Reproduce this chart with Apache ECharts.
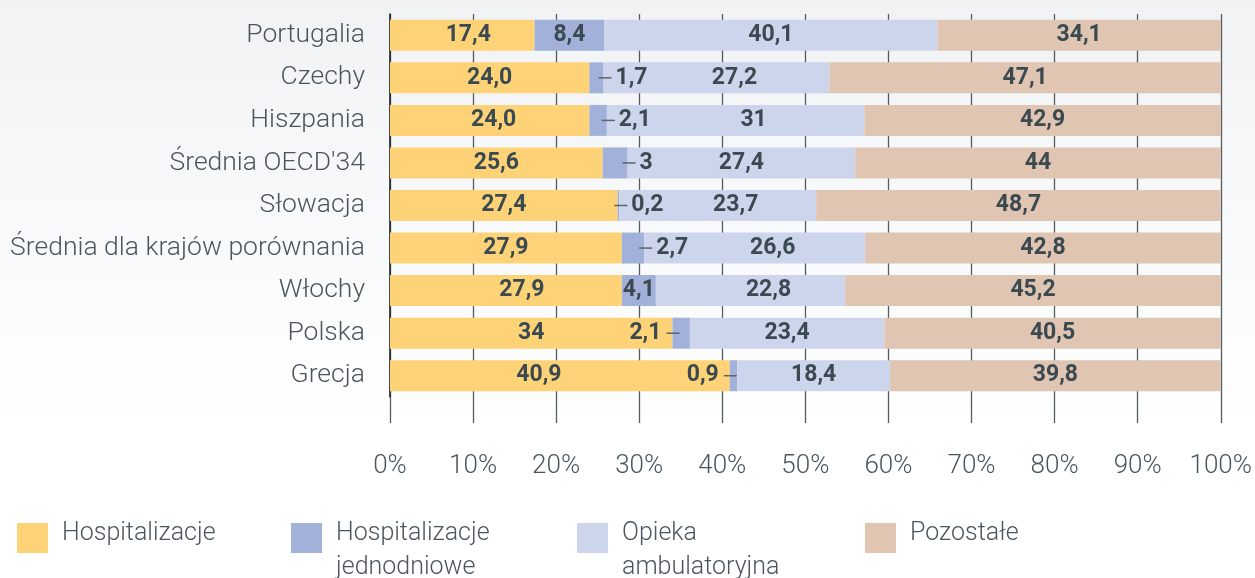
<!DOCTYPE html>
<html>
<head>
<meta charset="utf-8">
<script src="https://cdn.jsdelivr.net/npm/echarts@6/dist/echarts.min.js"></script>
<style>
  html, body { margin: 0; padding: 0; background: #fff; }
  #chart { width: 1255px; height: 578px; }
</style>
</head>
<body>
<div id="chart"></div>
<script>
const countries = ["Portugalia", "Czechy", "Hiszpania", "Średnia OECD'34", "Słowacja",
  "Średnia dla krajów porównania", "Włochy", "Polska", "Grecja"]

const seriesNames = ["Hospitalizacje", "Hospitalizacje jednodniowe", "Opieka ambulatoryjna", "Pozostałe"]

// values as printed on the chart
const hospitalizacje = ["17,4", "24,0", "24,0", "25,6", "27,4", "27,9", "27,9", "34", "40,9"]
const jednodniowe = ["8,4", "1,7", "2,1", "3", "0,2", "2,7", "4,1", "2,1", "0,9"]
const ambulatoryjna = ["40,1", "27,2", "31", "27,4", "23,7", "26,6", "22,8", "23,4", "18,4"]
const pozostale = ["34,1", "47,1", "42,9", "44", "48,7", "42,8", "45,2", "40,5", "39,8"]

const xTicks = [0, 10, 20, 30, 40, 50, 60, 70, 80, 90, 100]

const colors = ["#fed378", "#a1b1da", "#cdd5ec", "#dfc5b2"]
const textColor = "#4a565e"
const valueColor = "#3b4950"
const fontFamily = "Roboto, 'Open Sans', sans-serif"

// label placement tweaks, per bar (style only)
const jednoSide = ["inside", "right", "right", "right", "right", "right", "inside", "left", "left"]
const hospShift = [6, 0, 4, 0, 0, 0, 16, 0, -21]
const ambShift = [0, 18, 18, 0, 18, 18, 18, 0, 0]

// legend item positions (style only)
const legendLeft = [17, 291, 577, 865]
const legendTwoLines = [false, true, true, false]

const toNum = (s) => parseFloat(s.replace(",", "."))

const valueLabel = {
  show: true,
  position: "inside",
  color: valueColor,
  fontFamily: fontFamily,
  fontSize: 23,
  fontWeight: "bold",
}

function makeSeries(idx, texts, shifts) {
  return {
    name: seriesNames[idx],
    type: "bar",
    stack: "total",
    barWidth: 31,
    itemStyle: { color: colors[idx] },
    label: Object.assign({}, valueLabel, {
      formatter: (p) => texts[p.dataIndex],
    }),
    emphasis: { disabled: true },
    data: texts.map((t, i) => {
      const item = { value: toNum(t) }
      if (shifts && shifts[i]) {
        item.label = { offset: [shifts[i], 0] }
      }
      return item
    }),
  }
}

const jednoSeries = {
  name: seriesNames[1],
  type: "bar",
  stack: "total",
  barWidth: 31,
  itemStyle: { color: colors[1] },
  emphasis: { disabled: true },
  label: Object.assign({}, valueLabel, {
    formatter: (p) => {
      const t = jednodniowe[p.dataIndex]
      const side = jednoSide[p.dataIndex]
      if (side === "right") return "{d|}{vr|" + t + "}"
      if (side === "left") return "{vl|" + t + "}{d|}"
      return t
    },
    rich: {
      d: { width: 13, height: 1.5, backgroundColor: "#5b646a", verticalAlign: "middle" },
      vr: { color: valueColor, fontFamily: fontFamily, fontSize: 23, fontWeight: "bold", padding: [0, 0, 0, 4] },
      vl: { color: valueColor, fontFamily: fontFamily, fontSize: 23, fontWeight: "bold", padding: [0, 5, 0, 0] },
    },
  }),
  data: jednodniowe.map((t, i) => {
    const side = jednoSide[i]
    if (side === "right") return { value: toNum(t), label: { position: "right", distance: -5 } }
    if (side === "left") return { value: toNum(t), label: { position: "left", distance: -7 } }
    return { value: toNum(t) }
  }),
}

// legend text sits a bit above the swatch centre (one line) or below it (two lines):
// the swatch path carries an invisible dot that stretches the item box
const iconOneLine = "path://M0,0h0.01v0.01h-0.01zM0,8h31v30h-31z"
const iconTwoLines = "path://M0,0h31v30h-31zM0,56h0.01v0.01h-0.01z"

const legends = seriesNames.map((n, i) => ({
  left: legendLeft[i],
  top: legendTwoLines[i] ? 517 : 515,
  padding: 0,
  icon: legendTwoLines[i] ? iconTwoLines : iconOneLine,
  itemWidth: 31,
  itemHeight: legendTwoLines[i] ? 56 : 38,
  selectedMode: false,
  textStyle: {
    color: textColor,
    fontFamily: fontFamily,
    fontWeight: 300,
    fontSize: 25,
    width: 200,
    lineHeight: 34,
    overflow: "break",
    padding: [0, 0, 0, 9],
  },
  data: [n],
}))

const chart = echarts.init(document.getElementById("chart"))

chart.setOption({
  backgroundColor: "#ffffff",
  animation: false,
  graphic: [
    {
      type: "rect",
      z: -10,
      shape: { x: 0, y: 0, width: 1255, height: 443 },
      style: {
        fill: new echarts.graphic.LinearGradient(0, 0, 0, 1, [
          { offset: 0, color: "#f1f2f4" },
          { offset: 0.5, color: "#f8f9fa" },
          { offset: 1, color: "#ffffff" },
        ]),
      },
    },
  ],
  grid: { left: 390, right: 33, top: 14, bottom: 181 },
  legend: legends,
  xAxis: {
    type: "value",
    min: xTicks[0],
    max: xTicks[xTicks.length - 1],
    interval: xTicks[1] - xTicks[0],
    axisLine: { show: false },
    axisTick: { show: true, length: 26, lineStyle: { color: "#555c61", width: 1.3 } },
    splitLine: { show: true, lineStyle: { color: "#555c61", width: 1.3 } },
    axisLabel: {
      margin: 56,
      color: textColor,
      fontFamily: fontFamily,
      fontWeight: 300,
      fontSize: 26,
      formatter: "{value}%",
    },
  },
  yAxis: {
    type: "category",
    inverse: true,
    data: countries,
    axisLine: { show: true, lineStyle: { color: "#222", width: 1.6 } },
    axisTick: { show: false },
    axisLabel: {
      margin: 25,
      color: textColor,
      fontFamily: fontFamily,
      fontWeight: 300,
      fontSize: 26.5,
    },
  },
  series: [
    makeSeries(0, hospitalizacje, hospShift),
    jednoSeries,
    makeSeries(2, ambulatoryjna, ambShift),
    makeSeries(3, pozostale, null),
  ],
})
</script>
</body>
</html>
